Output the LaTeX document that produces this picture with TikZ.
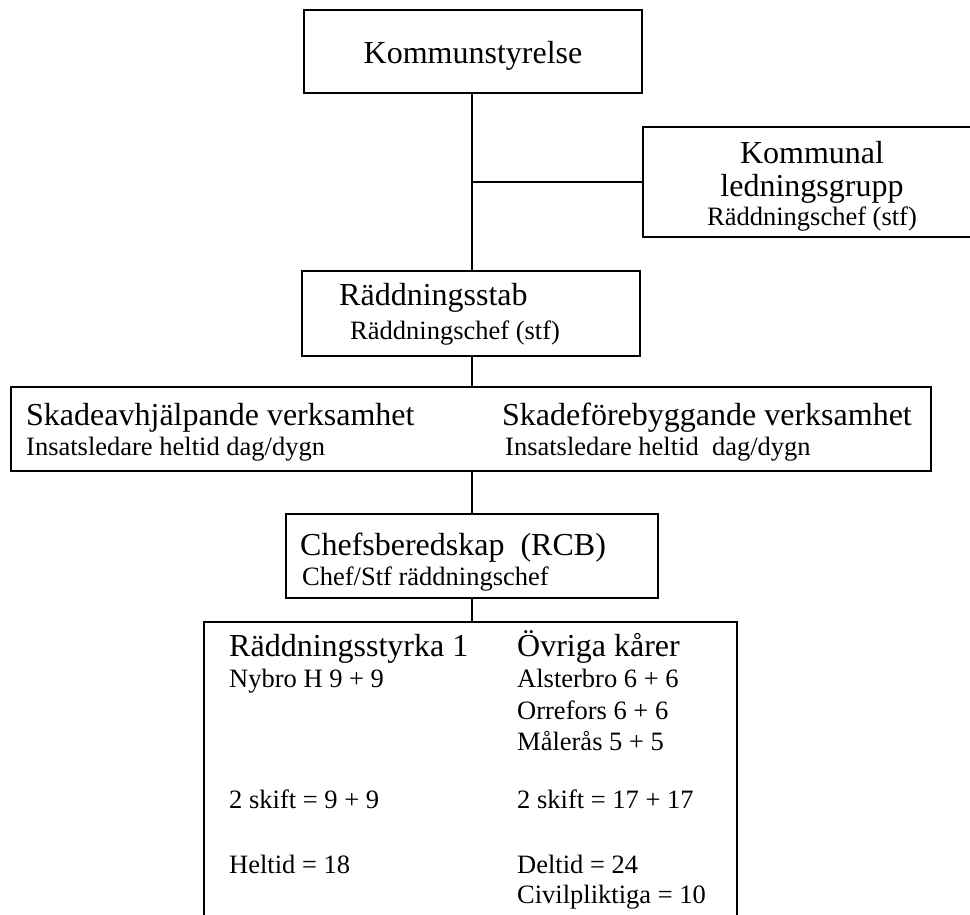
\documentclass[tikz,border=0pt]{standalone}
\usepackage{fontspec}
\setmainfont{Liberation Serif}
\begin{document}
\begin{tikzpicture}[x=1pt,y=-1pt,
  box/.style={draw=black,line width=2.6pt,rectangle,inner sep=0pt,fill=none},
  conn/.style={draw=black,line width=2.6pt},
  big/.style={inner sep=0pt,font=\fontsize{32}{36}\selectfont},
  small/.style={inner sep=0pt,font=\fontsize{26.5}{30}\selectfont},
  lt/.style={anchor=base west},
  ct/.style={anchor=base}]
\useasboundingbox (0,0) rectangle (970,914);
\begin{scope}
\clip (0,0) rectangle (970,914);
% boxes
\node[box,minimum width=338pt,minimum height=83pt] (ks) at (473,51.5) {};
\node[box,minimum width=338pt,minimum height=110pt] (klg) at (812,182) {};
\node[box,minimum width=338pt,minimum height=85pt] (rs) at (471,313.5) {};
\node[box,minimum width=920pt,minimum height=84pt] (sv) at (471,429) {};
\node[box,minimum width=372pt,minimum height=84pt] (cb) at (472,556) {};
\node[box,minimum width=533pt,minimum height=330pt] (st) at (470.5,787) {};
\coordinate (spine) at (472,0);
\coordinate (br) at (472,182);
% connectors
\draw[conn] (ks.south -| spine) -- (rs.north -| spine);
\draw[conn] (br) -- (klg.west);
\draw[conn] (rs.south -| spine) -- (sv.north -| spine);
\draw[conn] (sv.south -| spine) -- (cb.north -| spine);
\draw[conn] (cb.south -| spine) -- (st.north -| spine);
\end{scope}
% texts
\node[big,ct] (t1) at (473,63) {Kommunstyrelse};
\node[big,ct] (t2a) at (812,163) {Kommunal};
\node[big,ct] (t2b) at (812,196) {ledningsgrupp};
\node[small,ct] (t2c) at (812,225) {Räddningschef (stf)};
\node[big,lt] (t3a) at (339,305) {Räddningsstab};
\node[small,lt] (t3b) at (350,339) {Räddningschef (stf)};
\node[big,lt] (t4a) at (26,425) {Skadeavhjälpande verksamhet};
\node[small,lt] (t4b) at (26,455) {Insatsledare heltid dag/dygn};
\node[big,lt] (t4c) at (502,425) {Skadeförebyggande verksamhet};
\node[small,lt] (t4d) at (505,455) {Insatsledare heltid\ \ dag/dygn};
\node[big,lt] (t5a) at (300,555) {Chefsberedskap\ \ (RCB)};
\node[small,lt] (t5b) at (302,585) {Chef/Stf räddningschef};
\node[big,lt] (l1) at (229,656) {Räddningsstyrka 1};
\node[small,lt] (l2) at (229,687) {Nybro H 9 + 9};
\node[small,lt] (l3) at (229,808) {2 skift = 9 + 9};
\node[small,lt] (l4) at (229,873) {Heltid = 18};
\node[big,lt] (r1) at (517,656) {Övriga kårer};
\node[small,lt] (r2) at (517,687) {Alsterbro 6 + 6};
\node[small,lt] (r3) at (517,719) {Orrefors 6 + 6};
\node[small,lt] (r4) at (517,750) {Målerås 5 + 5};
\node[small,lt] (r5) at (517,808) {2 skift = 17 + 17};
\node[small,lt] (r6) at (517,873) {Deltid = 24};
\node[small,lt] (r7) at (517,903) {Civilpliktiga = 10};
\end{tikzpicture}
\end{document}
